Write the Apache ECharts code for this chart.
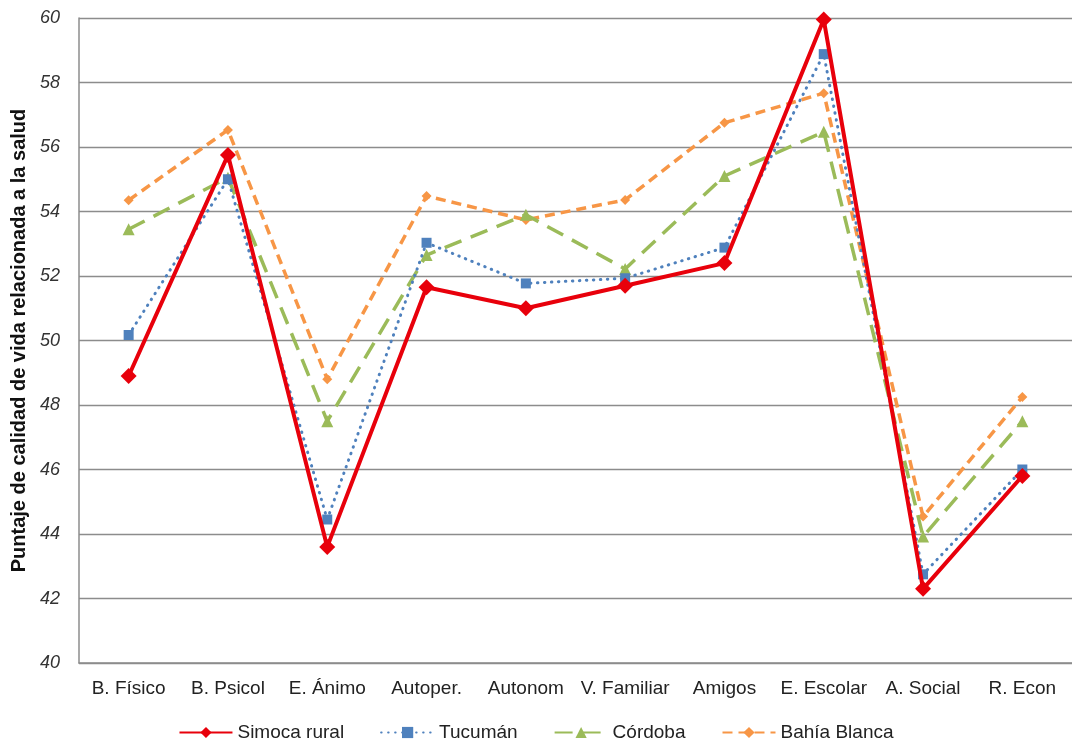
<!DOCTYPE html>
<html><head><meta charset="utf-8">
<script src="https://cdn.jsdelivr.net/npm/echarts@6/dist/echarts.min.js"></script>
<style>html,body{margin:0;padding:0;background:#fff}#c{width:1072px;height:740px}</style>
</head><body><div id="c"></div>
<script>
const categories = ['B. Físico','B. Psicol','E. Ánimo','Autoper.','Autonom','V. Familiar','Amigos','E. Escolar','A. Social','R. Econ'];
const simoca = [48.9, 55.75, 43.6, 51.65, 51.0, 51.7, 52.4, 59.95, 42.3, 45.8];
const tucuman = [50.17, 55.0, 44.45, 53.03, 51.77, 51.93, 52.88, 58.88, 42.75, 46.0];
const cordoba = [53.45, 55.05, 47.5, 52.65, 53.9, 52.22, 55.1, 56.47, 43.92, 47.5];
const bahia = [54.35, 56.53, 48.8, 54.48, 53.74, 54.36, 56.75, 57.67, 44.54, 48.25];
const yTicks = [40,42,44,46,48,50,52,54,56,58,60];

const chart = echarts.init(document.getElementById('c'), null, {renderer:'canvas'});
const font = 'Arial, "Liberation Sans", sans-serif';
chart.setOption({
  animation:false,
  grid:{left:79, top:18, right:-10, bottom:77, containLabel:false},
  legend:{
    top:718, left:'center', itemWidth:53, itemHeight:14, itemGap:36,
    textStyle:{fontFamily:font, fontSize:19, color:'#222'},
    data:['Simoca rural','Tucumán','Córdoba','Bahía Blanca']
  },
  xAxis:{
    type:'category', data:categories, boundaryGap:true,
    axisLine:{show:true, lineStyle:{color:'#8c8c8c', width:1.5}},
    axisTick:{show:false},
    axisLabel:{fontFamily:font, fontSize:19, color:'#222', margin:16, interval:0}
  },
  yAxis:{
    type:'value', min:yTicks[0], max:yTicks[yTicks.length-1], interval:2,
    name:'Puntaje de calidad de vida relacionada a la salud',
    nameLocation:'middle', nameGap:49, nameRotate:90,
    nameTextStyle:{fontFamily:font, fontSize:20, fontWeight:'bold', color:'#111'},
    axisLine:{show:true, lineStyle:{color:'#8c8c8c', width:1.5}},
    axisTick:{show:false},
    splitLine:{lineStyle:{color:'#8c8c8c', width:1.3}},
    axisLabel:{fontFamily:font, fontSize:18, fontStyle:'italic', color:'#333', margin:19}
  },
  series:[
    {name:'Bahía Blanca', type:'line', data:bahia, z:2,
     symbol:'diamond', symbolSize:10,
     lineStyle:{color:'#F79646', width:3.5, type:[10,6]},
     itemStyle:{color:'#F79646'}},
    {name:'Córdoba', type:'line', data:cordoba, z:3,
     symbol:'triangle', symbolSize:12,
     lineStyle:{color:'#9BBB59', width:3.5, type:[18,10]},
     itemStyle:{color:'#9BBB59'}},
    {name:'Tucumán', type:'line', data:tucuman, z:4,
     symbol:'rect', symbolSize:10,
     lineStyle:{color:'#4F81BD', width:3, type:[0.5,6.5], cap:'round'},
     itemStyle:{color:'#4F81BD'}},
    {name:'Simoca rural', type:'line', data:simoca, z:5,
     symbol:'diamond', symbolSize:16,
     lineStyle:{color:'#E8000B', width:4},
     itemStyle:{color:'#E8000B'}}
  ]
});
</script>
</body></html>
